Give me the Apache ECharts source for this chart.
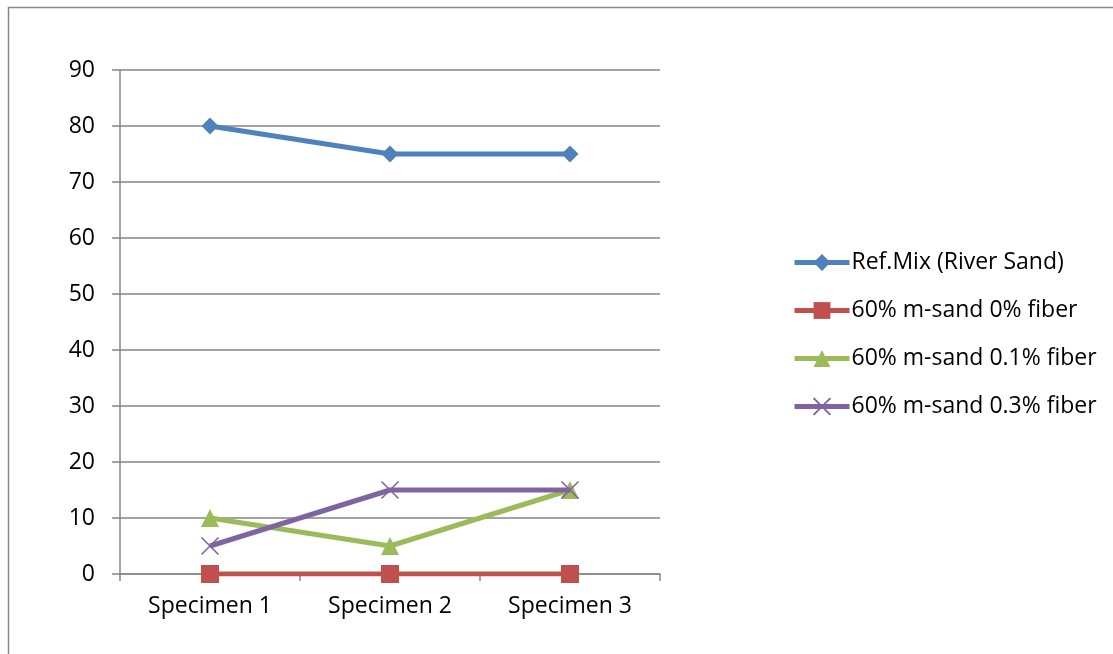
<!DOCTYPE html>
<html><head><meta charset="utf-8">
<script src="https://cdn.jsdelivr.net/npm/echarts@6/dist/echarts.min.js"></script>
<style>html,body{margin:0;padding:0;background:#fff}#c{width:1113px;height:654px}</style>
</head><body><div id="c"></div>
<script>
const categories = ['Specimen 1', 'Specimen 2', 'Specimen 3'];
const seriesNames = ['Ref.Mix (River Sand)', '60% m-sand 0% fiber', '60% m-sand 0.1% fiber', '60% m-sand 0.3% fiber'];
const refMix = [80, 75, 75];
const msand0 = [0, 0, 0];
const msand01 = [10, 5, 15];
const msand03 = [5, 15, 15];
const colors = ['#4F81BD', '#C0504D', '#9BBB59', '#8064A2'];
const symbols = ['diamond', 'rect', 'triangle', 'path://M0,0L10,10M10,0L0,10'];
const symbolSizes = [17, 18, 18, 17];
const values = [refMix, msand0, msand01, msand03];
const font = 'Open Sans';

const chart = echarts.init(document.getElementById('c'));
chart.setOption({
  animation: false,
  textStyle: {fontFamily: font},
  graphic: [{type: 'rect', shape: {x: 8.5, y: 7.5, width: 1200, height: 800}, style: {fill: 'none', stroke: '#878787', lineWidth: 1.5}, z: -10}],
  grid: {left: 120, right: 453, top: 70, bottom: 80},
  legend: {
    orient: 'vertical', left: 787, top: 246, itemGap: 25, itemWidth: 55, itemHeight: 21,
    lineStyle: {width: 5},
    textStyle: {fontFamily: font, fontSize: 23, color: '#000', padding: [0,0,0,-3]},
    data: seriesNames
  },
  xAxis: {
    type: 'category', data: categories, boundaryGap: true,
    axisLine: {lineStyle: {color: '#868686', width: 1.5}},
    axisTick: {show: true, length: 7, lineStyle: {color: '#868686', width: 1.5}},
    axisLabel: {color: '#000', fontSize: 23, margin: 21, fontFamily: font}
  },
  yAxis: {
    type: 'value', min: 0, max: 90, interval: 10,
    axisLine: {show: true, lineStyle: {color: '#868686', width: 1.5}},
    axisTick: {show: true, length: 8, lineStyle: {color: '#868686', width: 1.5}},
    axisLabel: {color: '#000', fontSize: 23, margin: 25, fontFamily: font},
    splitLine: {lineStyle: {color: '#868686', width: 1.5}}
  },
  series: seriesNames.map((n, i) => ({
    name: n, type: 'line', data: values[i],
    symbol: symbols[i], symbolSize: symbolSizes[i], showAllSymbol: true,
    lineStyle: {color: colors[i], width: 5},
    itemStyle: i === 3 ? {color: colors[i], borderColor: colors[i], borderWidth: 1.6} : {color: colors[i], borderWidth: 0},
    z: 2 + i
  }))
});
</script></body></html>
